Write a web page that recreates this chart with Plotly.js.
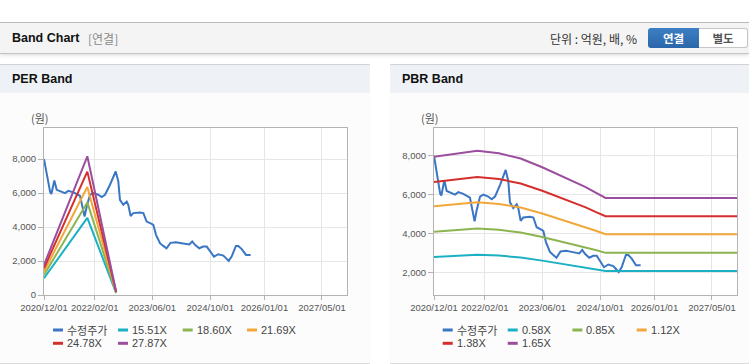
<!DOCTYPE html>
<html><head><meta charset="utf-8">
<script src="https://cdn.plot.ly/plotly-3.0.1.min.js"></script>
<style>
html,body{margin:0;padding:0}
body{width:749px;height:364px;overflow:hidden;background:#fff;position:relative;font-family:"Liberation Sans",Arial,"Noto Sans CJK KR",sans-serif}
#hdr{position:absolute;left:0;top:22px;width:749px;height:30px;background:#f4f4f4;border-top:1px solid #b9b9b9;border-bottom:1px solid #c2c2c2;box-shadow:0 2px 3px rgba(0,0,0,0.10)}
#hdr .ttl{position:absolute;left:12px;top:0;line-height:31px;font-size:12.5px;font-weight:bold;color:#111}
#hdr .sub{position:absolute;left:88px;top:0;line-height:31px;font-size:12px;color:#8a8a8a;font-family:"Noto Sans CJK KR",sans-serif}
#hdr .unit{position:absolute;left:550px;top:0;line-height:31px;font-size:12px;color:#333;font-family:"Noto Sans CJK KR",sans-serif}
#hdr .b1{position:absolute;left:648px;top:5px;width:51px;height:20px;line-height:20px;text-align:center;font-size:11.5px;font-weight:bold;color:#fff;background:linear-gradient(#3d7fc4,#2b66aa);border-radius:3px 0 0 3px;font-family:"Noto Sans CJK KR",sans-serif}
#hdr .b2{position:absolute;left:699px;top:5px;width:48px;height:18px;line-height:18px;text-align:center;font-size:11.5px;font-weight:bold;color:#555;background:#fff;border:1px solid #c6c6c6;border-left:none;border-radius:0 3px 3px 0;font-family:"Noto Sans CJK KR",sans-serif}
.panel{position:absolute;top:64px;height:298px;background:#fcfcfc;border-top:1px solid #d3d3d3;border-bottom:1px solid #dcdcdc}
.panel .ph{position:absolute;left:0;top:0;right:0;height:28px;background:#eef1f6}
.panel .ph span{position:absolute;left:12px;top:0;line-height:29px;font-size:12.5px;font-weight:bold;color:#111}
.plot{position:absolute;top:28px;left:0;height:270px}
</style></head>
<body>
<div id="hdr"><span class="ttl">Band Chart</span><span class="sub">[연결]</span><span class="unit">단위 : 억원, 배, %</span><span class="b1">연결</span><span class="b2">별도</span></div>
<div class="panel" id="p1" style="left:0;width:370px"><div class="ph"><span>PER Band</span></div><div class="plot" id="perChart" style="width:370px"></div></div>
<div class="panel" id="p2" style="left:390px;width:359px"><div class="ph"><span>PBR Band</span></div><div class="plot" id="pbrChart" style="width:359px"></div></div>
<script>
// ---------- data ----------
var priceDates = ['2020-12-01','2020-12-15','2021-01-01','2021-01-22','2021-02-01','2021-02-26','2021-03-18','2021-04-15','2021-05-27','2021-06-24','2021-08-05','2021-09-30','2021-10-28','2021-11-08','2021-11-26','2021-12-24','2022-01-20','2022-03-03','2022-04-01','2022-04-29','2022-06-10','2022-07-28','2022-08-19','2022-09-02','2022-09-30','2022-10-29','2022-11-11','2022-12-01','2022-12-23','2023-02-18','2023-03-18','2023-04-15','2023-05-27','2023-06-10','2023-07-03','2023-08-05','2023-09-02','2023-09-29','2023-11-02','2023-12-18','2024-02-04','2024-03-11','2024-04-08','2024-05-03','2024-05-26','2024-07-01','2024-08-04','2024-09-02','2024-09-29','2024-11-02','2024-12-08','2025-01-20','2025-02-11','2025-03-06','2025-03-31','2025-05-06','2025-05-26','2025-06-24','2025-07-30','2025-09-07'];
var priceValues = [8000,7500,6700,6050,5950,6740,6190,6100,6000,6130,6040,5840,5015,4620,5210,5900,6000,5900,5760,5900,6490,7270,6690,5600,5310,5500,5310,4650,4820,4860,4820,4320,4190,4130,3540,3050,2890,2750,3070,3110,3050,3000,2970,3150,2950,2750,2850,2850,2560,2260,2400,2320,2170,2010,2260,2890,2890,2700,2360,2360];

var perDates = ['2020-12-01','2021-12-01','2022-08-01'];
var per1551 = [985, 4544, 109];
var per1860 = [1180, 5450, 130];
var per2169 = [1375, 6355, 152];
var per2478 = [1575, 7261, 173];
var per2787 = [1770, 8166, 195];

var pbrDates = ['2020-12-01','2021-06-01','2021-12-01','2022-06-01','2022-12-01','2023-06-01','2023-12-01','2024-06-01','2024-09-01','2024-11-15','2027-12-01'];
var pbr058 = [2790,2850,2900,2860,2760,2600,2425,2246,2137,2070,2070];
var pbr085 = [4090,4180,4250,4190,4050,3820,3555,3292,3132,3000,3000];
var pbr112 = [5400,5510,5610,5520,5340,5030,4684,4337,4127,3960,3960];
var pbr138 = [6650,6790,6910,6800,6570,6200,5771,5345,5085,4890,4890];
var pbr165 = [7950,8120,8260,8130,7860,7410,6900,6390,6080,5830,5830];

var xTickVals = ['2020-12-01','2022-02-01','2023-06-01','2024-10-01','2026-01-01','2027-05-01'];
var xTickText = ['2020/12/01','2022/02/01','2023/06/01','2024/10/01','2026/01/01','2027/05/01'];
var perNames = ['수정주가','15.51X','18.60X','21.69X','24.78X','27.87X'];
var pbrNames = ['수정주가','0.58X','0.85X','1.12X','1.38X','1.65X'];
var colors = ['#3a76c4','#1cb0c4','#8cb551','#f2a73b','#d42f2c','#9b4e9d'];

// ---------- drawing ----------
var FONT = '"Liberation Sans", Arial, "Noto Sans CJK KR", sans-serif';
var KFONT = '"Noto Sans CJK KR", "Liberation Sans", sans-serif';

function build(divId, width, m, yRange, yTicks, bandDates, bands, names) {
  var traces = [{x: priceDates, y: priceValues, type: 'scatter', mode: 'lines', name: names[0],
    line: {color: colors[0], width: 2}, hoverinfo: 'skip'}];
  for (var i = 0; i < bands.length; i++) {
    traces.push({x: bandDates, y: bands[i], type: 'scatter', mode: 'lines', name: names[i + 1],
      line: {color: colors[i + 1], width: 2}, hoverinfo: 'skip'});
  }
  var H = 270;
  var pw = width - m.l - m.r, ph = H - m.t - m.b;
  function px(x) { return (x - m.l) / pw; }
  function py(y) { return 1 - (y - m.t) / ph; }
  var shapes = [], ann = [];
  var cols = [53, 118, 182.7, 247], rows = [237, 250.3];
  for (var k = 0; k < names.length; k++) {
    var cx = cols[k % 4], ry = rows[Math.floor(k / 4)];
    shapes.push({type: 'line', xref: 'paper', yref: 'paper', x0: px(cx), x1: px(cx + 10), y0: py(ry), y1: py(ry),
      line: {color: colors[k], width: 3}});
    ann.push({xref: 'paper', yref: 'paper', x: px(cx + 12), y: py(ry), xanchor: 'left', yanchor: 'middle',
      text: names[k], showarrow: false, font: {family: k === 0 ? KFONT : FONT, size: 11, color: '#444'}});
  }
  ann.push({xref: 'paper', yref: 'paper', x: px(40), y: py(25), xanchor: 'center', yanchor: 'middle',
    text: '(원)', showarrow: false, font: {family: KFONT, size: 11, color: '#555'}});
  var layout = {
    width: width, height: H, margin: m, showlegend: false,
    paper_bgcolor: 'rgba(0,0,0,0)', plot_bgcolor: '#ffffff',
    font: {family: FONT, size: 9.5, color: '#555'},
    xaxis: {type: 'date', range: ['2020-12-01', '2027-11-28'], tickmode: 'array', tickvals: xTickVals, ticktext: xTickText,
      showgrid: true, gridcolor: '#e6e6e6', gridwidth: 1, showline: true, linecolor: '#b3b3b3', linewidth: 1, mirror: true,
      ticks: 'outside', ticklen: 4, tickcolor: '#b3b3b3', zeroline: false, fixedrange: true,
      tickfont: {family: FONT, size: 9.5, color: '#555'}},
    yaxis: {range: yRange, tickmode: 'array', tickvals: yTicks, tickformat: ',d',
      showgrid: true, gridcolor: '#e6e6e6', gridwidth: 1, showline: true, linecolor: '#b3b3b3', linewidth: 1, mirror: true,
      ticks: 'outside', ticklen: 5, tickcolor: '#b3b3b3', zeroline: false, fixedrange: true,
      tickfont: {family: FONT, size: 9.5, color: '#555'}},
    shapes: shapes, annotations: ann
  };
  Plotly.newPlot(divId, traces, layout, {displayModeBar: false, staticPlot: true});
}

build('perChart', 370, {l: 44, r: 23, t: 35, b: 68, pad: 0}, [0, 9830], [0, 2000, 4000, 6000, 8000],
  perDates, [per1551, per1860, per2169, per2478, per2787], perNames);
build('pbrChart', 359, {l: 44.3, r: 11.7, t: 35, b: 68, pad: 0}, [830, 9430], [2000, 4000, 6000, 8000],
  pbrDates, [pbr058, pbr085, pbr112, pbr138, pbr165], pbrNames);
</script>
</body></html>
